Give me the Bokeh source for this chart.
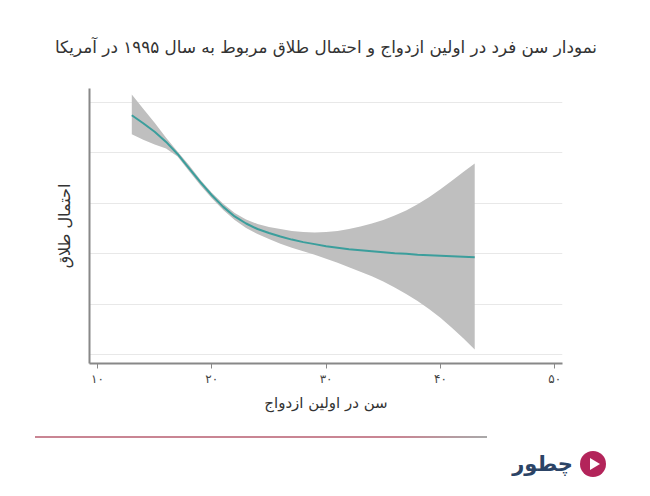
from bokeh.plotting import figure
from bokeh.models import Range1d, FixedTicker, ColumnDataSource, Div
from bokeh.layouts import column
from bokeh.embed import file_html
from bokeh.resources import INLINE

# ---- data (y in unlabeled gridline units) ----
age = [13, 14, 15, 16, 17, 18, 19, 20, 21, 22, 23, 24, 25, 26, 27, 28,
       29, 30, 31, 32, 33, 34, 35, 36, 37, 38, 39, 40, 41, 42, 43]
prob = [4.75, 4.59, 4.42, 4.22, 3.98, 3.70, 3.42, 3.16, 2.93, 2.74, 2.60, 2.49,
        2.41, 2.34, 2.28, 2.23, 2.19, 2.15, 2.12, 2.09, 2.07, 2.05, 2.03, 2.01,
        2.00, 1.98, 1.97, 1.96, 1.95, 1.94, 1.93]
upper = [5.16, 4.88, 4.60, 4.30, 4.03, 3.76, 3.47, 3.21, 2.99, 2.81, 2.68, 2.59,
         2.53, 2.49, 2.45, 2.43, 2.42, 2.43, 2.45, 2.49, 2.54, 2.60, 2.67, 2.76,
         2.86, 2.98, 3.12, 3.28, 3.45, 3.62, 3.79]
lower = [4.37, 4.26, 4.17, 4.09, 3.93, 3.64, 3.36, 3.10, 2.87, 2.67, 2.51, 2.39,
         2.29, 2.20, 2.12, 2.05, 1.98, 1.90, 1.82, 1.73, 1.64, 1.55, 1.45, 1.33,
         1.20, 1.06, 0.90, 0.73, 0.53, 0.32, 0.10]
x_ticks = [10, 20, 30, 40, 50]
x_tick_labels = ["۱۰", "۲۰", "۳۰", "۴۰", "۵۰"]
y_grid = [0, 1, 2, 3, 4, 5]

title_text = "نمودار سن فرد در اولین ازدواج و احتمال طلاق مربوط به سال ۱۹۹۵ در آمریکا"
x_label = "سن در اولین ازدواج"
y_label = "احتمال طلاق"
brand = "چطور"

FONT = "DejaVu Sans"

p = figure(width=634, height=423, output_backend="svg", toolbar_location=None,
           x_range=Range1d(9.3, 50.68), y_range=Range1d(-0.18, 5.28),
           min_border_left=89, min_border_right=72, min_border_top=88,
           min_border_bottom=60)
p.outline_line_color = None
p.background_fill_color = "white"
p.border_fill_color = "white"

p.title.text = title_text
p.title.align = "center"
p.title.text_font = FONT
p.title.text_font_size = "16.8px"
p.title.text_font_style = "normal"
p.title.text_color = "#333333"
p.title.standoff = 64

src = ColumnDataSource(dict(age=age, prob=prob, upper=upper, lower=lower))
p.varea(x="age", y1="lower", y2="upper", source=src, fill_color="#bfbfbf")
p.line(x="age", y="prob", source=src, line_color="#3b9e9c", line_width=2)

# x axis
xa = p.xaxis[0]
xa.ticker = FixedTicker(ticks=x_ticks)
xa.major_label_overrides = {t: l for t, l in zip(x_ticks, x_tick_labels)}
xa.minor_tick_line_color = None
xa.major_tick_in = 0
xa.major_tick_out = 5
xa.major_tick_line_color = "#888888"
xa.axis_line_color = "#888888"
xa.axis_line_width = 2
xa.major_label_text_font = FONT
xa.major_label_text_font_size = "12px"
xa.major_label_text_color = "#444444"
xa.major_label_standoff = 3
xa.axis_label = x_label
xa.axis_label_text_font = FONT
xa.axis_label_text_font_size = "15px"
xa.axis_label_text_font_style = "normal"
xa.axis_label_text_color = "#333333"
xa.axis_label_standoff = 5

# y axis
ya = p.yaxis[0]
ya.ticker = FixedTicker(ticks=y_grid)
ya.major_label_text_font_size = "0px"
ya.major_label_text_color = None
ya.major_tick_line_color = None
ya.minor_tick_line_color = None
ya.axis_line_color = "#888888"
ya.axis_line_width = 2
ya.axis_label = y_label
ya.axis_label_text_font = FONT
ya.axis_label_text_font_size = "16px"
ya.axis_label_text_font_style = "normal"
ya.axis_label_text_color = "#333333"
ya.axis_label_standoff = 10

p.xgrid.grid_line_color = None
p.ygrid.grid_line_color = "#e8e8e8"
p.ygrid.grid_line_width = 1

# ---- footer (brand bar) ----
footer_html = f"""
<div style="position:relative;width:634px;height:70px;font-family:'DejaVu Sans',sans-serif;">
  <div style="position:absolute;left:30px;top:8px;width:452px;height:2px;
              background:linear-gradient(to right,#c98593 80%,#a9a9a9);"></div>
  <div style="position:absolute;left:575px;top:23px;width:26px;height:26px;border-radius:50%;
              background:#b3245a;"></div>
  <div style="position:absolute;left:585px;top:30px;width:0;height:0;
              border-left:10px solid white;border-top:6px solid transparent;
              border-bottom:6px solid transparent;"></div>
  <div style="position:absolute;left:0;width:568px;top:21px;line-height:30px;text-align:right;
              font-size:21px;font-weight:bold;color:#2c4466;" dir="rtl">{brand}</div>
</div>
"""
footer = Div(text=footer_html, width=634, height=70)

page = column(p, footer, spacing=0)
open("out.html", "w").write(file_html(page, INLINE))
